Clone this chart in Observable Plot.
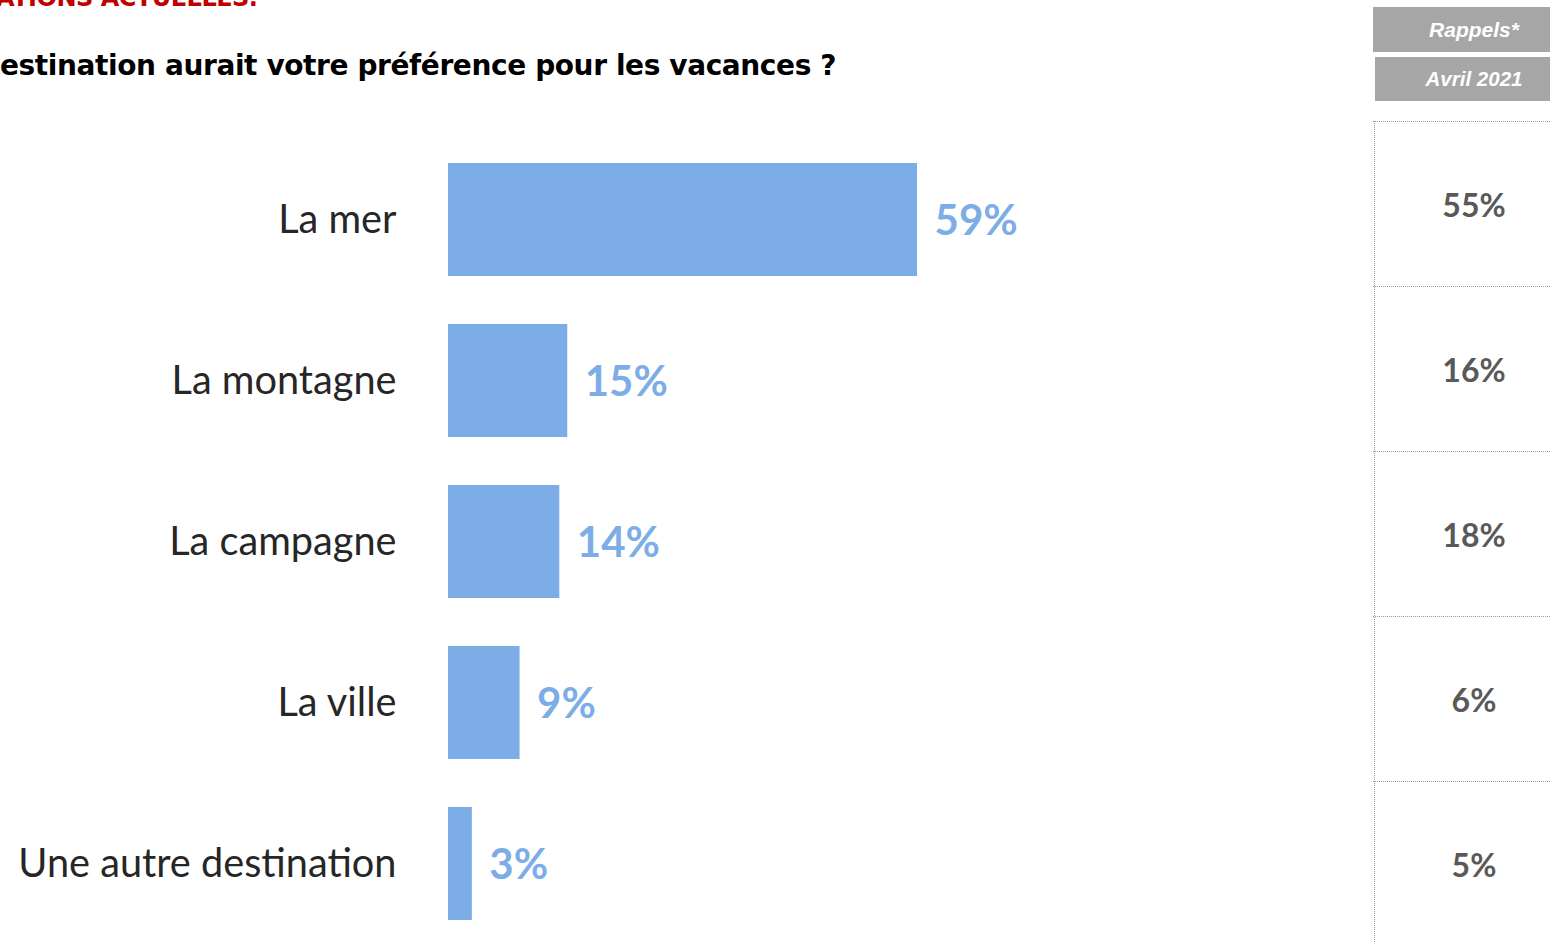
<!DOCTYPE html>
<html>
<head>
<meta charset="utf-8">
<script src="https://cdn.jsdelivr.net/npm/d3@7"></script>
<script src="https://cdn.jsdelivr.net/npm/@observablehq/plot@0.6"></script>
<style>
  html, body { margin: 0; padding: 0; background: #fff; width: 1550px; height: 943px; overflow: hidden; }
  #page { position: relative; width: 1550px; height: 943px; overflow: hidden; }
  .abs { position: absolute; }
  #kicker { left: -4px; top: -16px; font-family: "DejaVu Sans", sans-serif; font-weight: bold; font-size: 24px; color: #C00000; white-space: nowrap; letter-spacing: -0.5px; }
  #question { left: 0px; top: 49px; font-family: "DejaVu Sans", sans-serif; font-weight: bold; font-size: 28px; color: #000; white-space: nowrap; letter-spacing: -0.4px; }
  .hdr { background: #A6A6A6; color: #fff; font-family: "Liberation Sans", Arial, sans-serif; font-weight: bold; font-style: italic; text-align: center; }
  #h1 { left: 1373px; top: 7px; width: 202px; height: 45px; line-height: 45px; font-size: 21px; }
  #h2 { left: 1375px; top: 57px; width: 198px; height: 44px; line-height: 44px; font-size: 20.5px; }
  #main { left: 0; top: 0; }
  #side { left: 1373px; top: 0; }
</style>
</head>
<body>
<div id="page">
  <div id="kicker" class="abs">ATIONS ACTUELLES.</div>
  <div id="question" class="abs">estination aurait votre préférence pour les vacances ?</div>
  <div id="h1" class="abs hdr">Rappels*</div>
  <div id="h2" class="abs hdr">Avril 2021</div>
  <div id="main" class="abs"></div>
  <div id="side" class="abs"></div>
</div>
<script>
const categories = ["La mer", "La montagne", "La campagne", "La ville", "Une autre destination"];
const values = [59, 15, 14, 9, 3];
const rappels = [55, 16, 18, 6, 5];

const data = categories.map((c, i) => ({category: c, value: values[i], rappel: rappels[i]}));

const main = Plot.plot({
  width: 1373,
  height: 946,
  marginTop: 137,
  marginBottom: 0,
  marginLeft: 448,
  marginRight: 0,
  style: {background: "transparent", overflow: "visible"},
  x: {domain: [0, 100], range: [448, 1243], axis: null},
  y: {type: "band", domain: categories, paddingInner: 0.3, paddingOuter: 0.15, label: null},
  marks: [
    Plot.barX(data, {y: "category", x: "value", fill: "#7DADE6"}),
    Plot.text(data, {
      y: "category", x: "value", text: d => d.value + "%",
      textAnchor: "start", dx: 17, dy: 2,
      fill: "#7DADE6", fontSize: 42, fontWeight: "bold", fontFamily: "Lato"
    }),
    Plot.axisY({
      tickSize: 0, tickPadding: 52, fontSize: 39.7, fontFamily: "Lato",
      color: "#262626", label: null
    })
  ]
});
document.getElementById("main").appendChild(main);

const side = Plot.plot({
  width: 177,
  height: 946,
  marginTop: 121,
  marginBottom: 0,
  marginLeft: 0,
  marginRight: 0,
  style: {background: "transparent", overflow: "visible"},
  x: {domain: [0, 1], axis: null},
  y: {type: "band", domain: categories, padding: 0, axis: null},
  marks: [
    Plot.ruleY(data, {y: "category", stroke: "#999", strokeWidth: 1, strokeDasharray: "1,1", dy: -82.5}),
    Plot.ruleX([0], {stroke: "#999", strokeWidth: 1, strokeDasharray: "1,1", dx: 1}),
    Plot.text(data, {
      y: "category", text: d => d.rappel + "%", frameAnchor: "middle", dx: 12, dy: 3,
      fill: "#595959", fontSize: 32, fontWeight: "bold", fontFamily: "Lato"
    })
  ]
});
document.getElementById("side").appendChild(side);
</script>
</body>
</html>
